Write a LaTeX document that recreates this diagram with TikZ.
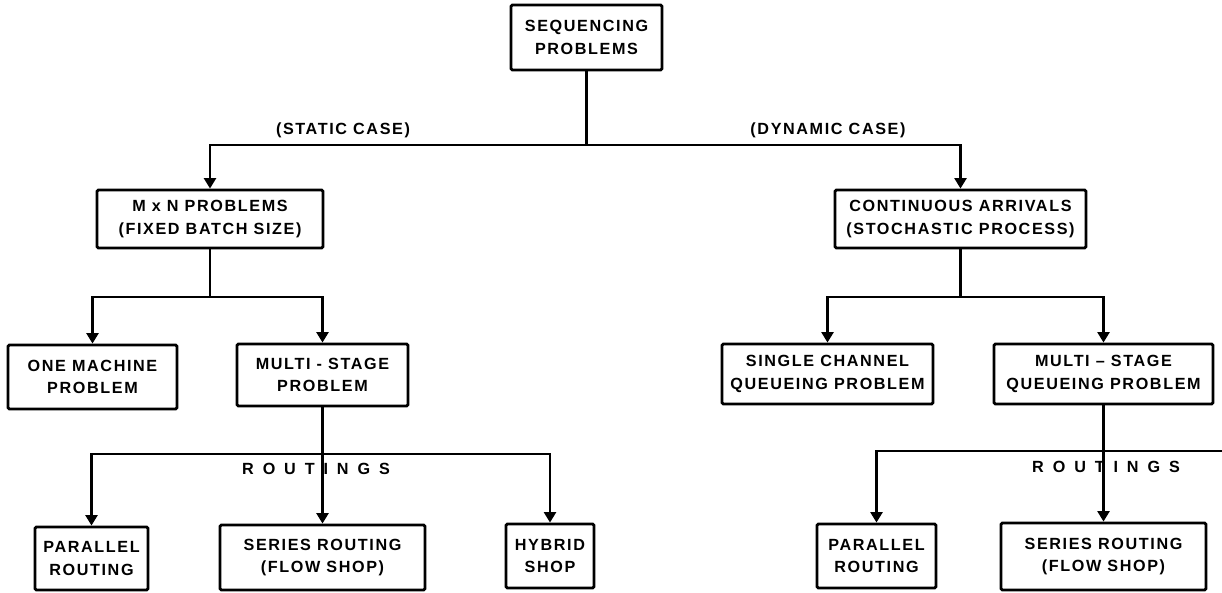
\documentclass[tikz,border=0pt]{standalone}
\usepackage{fontspec}
\setmainfont{Liberation Sans}[LetterSpace=10]
\usetikzlibrary{arrows.meta}

\tikzset{
  box/.style={draw, line width=2pt, rounded corners=1pt, align=center,
    inner sep=0pt, font=\bfseries\fontsize{11.5}{16}\selectfont},
  bw/.style={minimum width=#1*0.025cm},
  bh/.style={minimum height=#1*0.025cm},
  link/.style={line width=2pt},
  arr/.style={link, -{Triangle[width=8.5pt,length=7.5pt]}},
  lab/.style={font=\bfseries\fontsize{11.5}{13}\selectfont, inner sep=0pt},
  spaced/.style={font=\bfseries\fontsize{11.5}{13}\selectfont\addfontfeatures{LetterSpace=55}, inner sep=0pt},
}

\begin{document}
\begin{tikzpicture}[x=0.025cm, y=-0.025cm]
\useasboundingbox (0,0) rectangle (1222,592);

% root
\node[box, bw=151, bh=65] (seq) at (586.5,37.5) {SEQUENCING\\PROBLEMS};

% static / dynamic
\node[box, bw=226, bh=58] (mxn) at (210,219) {M x N PROBLEMS\\(FIXED BATCH SIZE)};
\node[box, bw=251, bh=58] (cont) at (960.5,219) {CONTINUOUS ARRIVALS\\(STOCHASTIC PROCESS)};
\node[lab] (static) at (343,130) {(STATIC CASE)};
\node[lab] (dynamic) at (828,130) {(DYNAMIC CASE)};

% second row
\node[box, bw=169, bh=64] (one) at (92.5,377) {ONE MACHINE\\PROBLEM};
\node[box, bw=171, bh=62] (multi) at (322.5,375) {MULTI - STAGE\\PROBLEM};
\node[box, bw=211, bh=60] (single) at (827.5,374) {SINGLE CHANNEL\\QUEUEING PROBLEM};
\node[box, bw=219, bh=60] (multiq) at (1103.5,374) {MULTI -- STAGE\\QUEUEING PROBLEM};

% routings
\node[box, bw=113, bh=63] (par1) at (91.5,558.5) {PARALLEL\\ROUTING};
\node[box, bw=205, bh=65] (ser1) at (322.5,557.5) {SERIES ROUTING\\(FLOW SHOP)};
\node[box, bw=88, bh=64] (hyb) at (550,556) {HYBRID\\SHOP};
\node[box, bw=119, bh=64] (par2) at (876.5,556) {PARALLEL\\ROUTING};
\node[box, bw=205, bh=67] (ser2) at (1103.5,556.5) {SERIES ROUTING\\(FLOW SHOP)};
\node[spaced] (rout1) at (316,469) {ROUTINGS};
\node[spaced] (rout2) at (1106,467) {ROUTINGS};

% buses
\coordinate (b0) at (586.5,145);
\coordinate (b1) at (210,297);
\coordinate (b2) at (322.5,454);
\coordinate (b3) at (960.5,297);
\coordinate (b4) at (1103.5,451);
\coordinate (off) at (1222,451);

\draw[link] (seq) -- (b0);
\draw[arr] (b0) -| (mxn);
\draw[arr] (b0) -| (cont);

\draw[link] (mxn) -- (b1);
\draw[arr] (b1) -| (one);
\draw[arr] (b1) -| (multi);

\draw[arr] (multi) -- (ser1);
\draw[arr] (b2) -| (par1);
\draw[arr] (b2) -| (hyb);

\draw[link] (cont) -- (b3);
\draw[arr] (b3) -| (single);
\draw[arr] (b3) -| (multiq);

\draw[arr] (multiq) -- (ser2);
\draw[arr] (b4) -| (par2);
\draw[link] (b4) -- (off);

\end{tikzpicture}
\end{document}
